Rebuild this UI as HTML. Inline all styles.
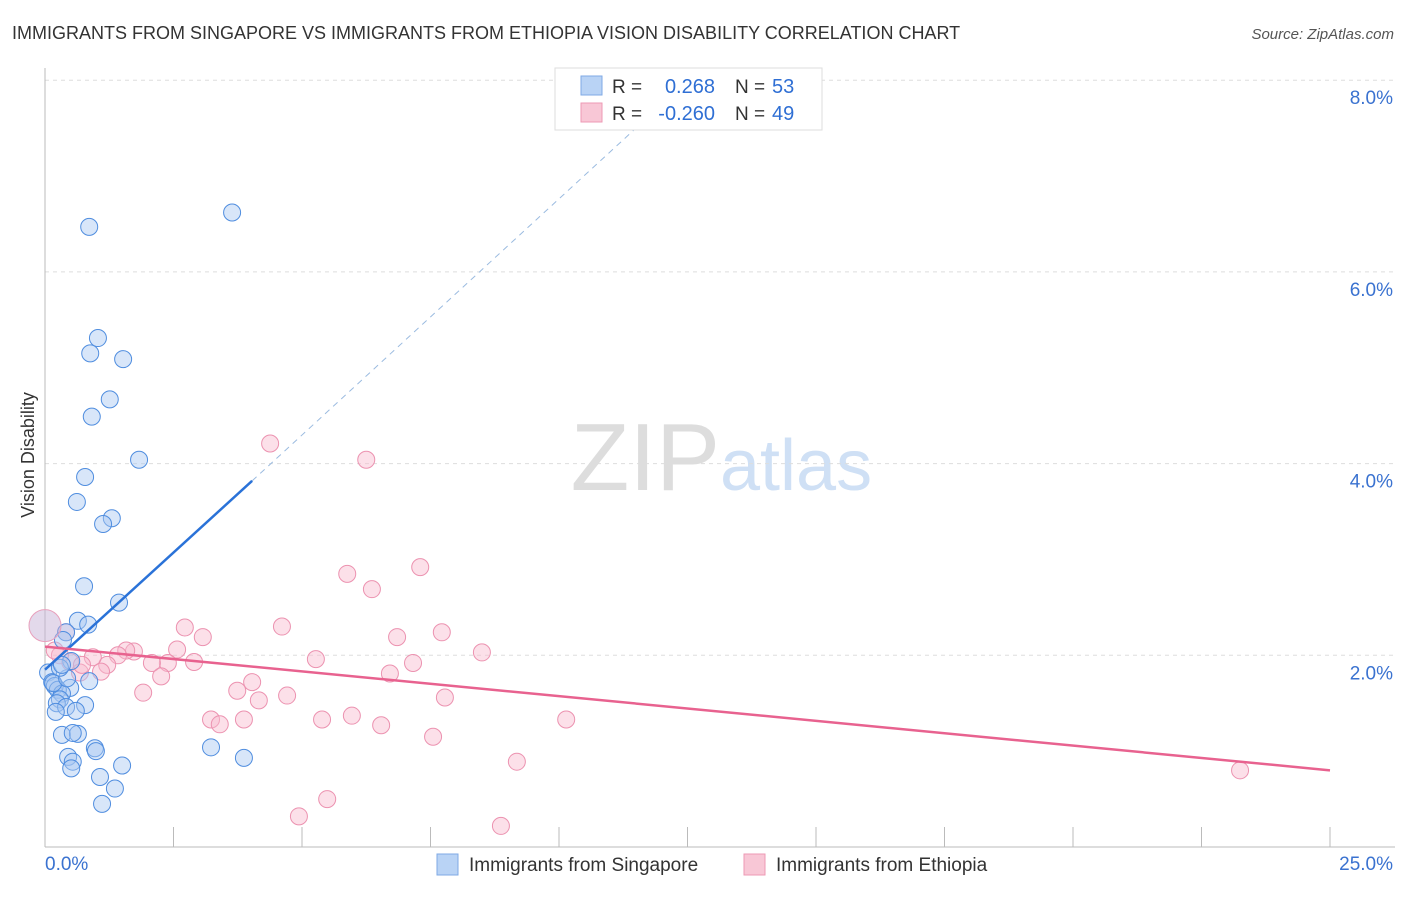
<!DOCTYPE html>
<html><head><meta charset="utf-8"><style>
body{margin:0;background:#fff;font-family:"Liberation Sans",sans-serif}
svg text{font-family:"Liberation Sans",sans-serif}
</style></head><body>
<svg id="chart" width="1406" height="892">
<text x="12" y="39" font-size="18" fill="#333">IMMIGRANTS FROM SINGAPORE VS IMMIGRANTS FROM ETHIOPIA VISION DISABILITY CORRELATION CHART</text>
<text x="1394" y="39" font-size="15" fill="#555" font-style="italic" text-anchor="end">Source: ZipAtlas.com</text>
<text transform="translate(34,455) rotate(-90)" font-size="18" fill="#333" text-anchor="middle">Vision Disability</text>
<text x="720" y="490" font-size="96" fill="#ddd" text-anchor="end" font-family="Liberation Serif">ZIP</text>
<text x="720" y="490" font-size="72" fill="#cfe0f5">atlas</text>
<g id="grid"></g><g id="axes"></g><g id="pts"></g><g id="lines"></g>
<g>
<rect x="555" y="68" width="267" height="62" fill="#fff" stroke="#ddd"/>
<rect x="581" y="76" width="21" height="19" fill="#b9d3f5" stroke="#7fa9e5"/>
<rect x="581" y="103" width="21" height="19" fill="#f8c7d6" stroke="#ee9ab4"/>
<text x="612" y="93" font-size="19" fill="#333">R = </text><text x="715" y="93" font-size="20" fill="#2f6fd4" text-anchor="end">0.268</text>
<text x="735" y="93" font-size="19" fill="#333">N = </text><text x="772" y="93" font-size="20" fill="#2f6fd4">53</text>
<text x="612" y="120" font-size="19" fill="#333">R = </text><text x="715" y="120" font-size="20" fill="#2f6fd4" text-anchor="end">-0.260</text>
<text x="735" y="120" font-size="19" fill="#333">N = </text><text x="772" y="120" font-size="20" fill="#2f6fd4">49</text>
</g>
<g>
<rect x="437" y="854" width="21" height="21" fill="#b9d3f5" stroke="#7fa9e5"/>
<text x="469" y="871" font-size="19" fill="#333">Immigrants from Singapore</text>
<rect x="744" y="854" width="21" height="21" fill="#f8c7d6" stroke="#ee9ab4"/>
<text x="776" y="871" font-size="19" fill="#333">Immigrants from Ethiopia</text>
</g>
</svg>
<script>
const yTicks=[2,4,6,8];
const xTickLabels=["0.0%","25.0%"];
const blueX=[0.86,3.64,1.03,0.88,1.52,1.26,0.91,1.83,0.78,0.62,1.30,1.13,0.76,1.44,0.64,0.84,0.41,0.51,0.49,0.06,0.14,0.19,0.25,0.33,0.29,0.23,0.41,0.78,0.21,0.60,0.33,0.64,0.54,0.97,0.99,0.45,0.54,0.51,1.50,3.23,3.87,1.07,1.36,1.11,0.16,0.43,0.86,0.29,0.35,0.33];
const blueY=[6.47,6.62,5.31,5.15,5.09,4.67,4.49,4.04,3.86,3.60,3.43,3.37,2.72,2.55,2.36,2.32,2.24,1.94,1.66,1.82,1.72,1.68,1.64,1.60,1.54,1.50,1.46,1.48,1.41,1.42,1.17,1.18,1.19,1.03,1.00,0.94,0.89,0.82,0.85,1.04,0.93,0.73,0.61,0.45,1.71,1.76,1.73,1.87,2.16,1.90];
const pinkX=[4.38,6.25,7.30,5.88,6.36,4.61,7.72,2.72,3.07,6.85,8.50,2.57,5.27,2.90,2.39,2.08,1.73,1.58,1.42,1.21,0.93,1.09,2.26,4.03,3.74,1.91,4.71,7.78,4.16,6.71,7.16,10.14,5.97,5.39,3.23,3.87,3.40,6.54,7.55,9.18,23.25,5.49,4.94,8.87,0.41,0.49,0.29,0.68,0.19,0.72];
const pinkY=[4.21,4.04,2.92,2.85,2.69,2.30,2.24,2.29,2.19,2.19,2.03,2.06,1.96,1.93,1.92,1.92,2.04,2.05,2.00,1.90,1.98,1.83,1.78,1.72,1.63,1.61,1.58,1.56,1.53,1.81,1.92,1.33,1.37,1.33,1.33,1.33,1.28,1.27,1.15,0.89,0.80,0.50,0.32,0.22,2.24,1.93,2.00,1.82,2.05,1.90];
const bigPts=[[0,2.31]];
const blueTrend=[[0,1.85],[4.03,3.82],[11.7,7.6]];
const pinkTrend=[[0,2.09],[25,0.80]];
const NS="http://www.w3.org/2000/svg";
const X=v=>45+v/25*1285, Y=v=>847-v*95.85;
function mk(t,a,p){const e=document.createElementNS(NS,t);for(const k in a)e.setAttribute(k,a[k]);document.getElementById(p).appendChild(e);return e;}
yTicks.forEach(t=>{const l=mk('line',{x1:45,x2:1395,y1:Y(t),y2:Y(t),stroke:'#ddd','stroke-dasharray':'4,4'},'grid');


const tx=mk('text',{x:1393,y:Y(t)+24,'font-size':19,fill:'#3a72d0','text-anchor':'end'},'grid');tx.textContent=t.toFixed(1)+'%';

});
const ax=mk('line',{x1:45,x2:45,y1:68,y2:847,stroke:'#bbb'},'axes');


const bx=mk('line',{x1:45,x2:1395,y1:847,y2:847,stroke:'#bbb'},'axes');


for(let i=1;i<=10;i++){const t=mk('line',{x1:45+i*128.5,x2:45+i*128.5,y1:827,y2:847,stroke:'#bbb'},'axes');

}
[[45,'start'],[1393,'end']].forEach((p,i)=>{const t=mk('text',{x:p[0],y:870,'font-size':19,fill:'#3a72d0','text-anchor':p[1]},'axes');t.textContent=xTickLabels[i];

});
pinkX.forEach((x,i)=>{const c=mk('circle',{cx:X(x),cy:Y(pinkY[i]),r:8.5,fill:'rgba(248,187,206,0.45)',stroke:'#ec92b0','stroke-width':1},'pts');

});
blueX.forEach((x,i)=>{const c=mk('circle',{cx:X(x),cy:Y(blueY[i]),r:8.5,fill:'rgba(168,200,242,0.45)',stroke:'#4f8ddf','stroke-width':1},'pts');

});
bigPts.forEach(p=>{const c=mk('circle',{cx:X(p[0]),cy:Y(p[1]),r:16,fill:'rgba(200,180,215,0.5)',stroke:'#e8a0bc'},'pts');

});
const b1=mk('line',{x1:X(blueTrend[0][0]),y1:Y(blueTrend[0][1]),x2:X(blueTrend[1][0]),y2:Y(blueTrend[1][1]),stroke:'#2a72d8','stroke-width':2.5},'lines');


const b2=mk('line',{x1:X(blueTrend[1][0]),y1:Y(blueTrend[1][1]),x2:X(blueTrend[2][0]),y2:Y(blueTrend[2][1]),stroke:'#9bbbe0','stroke-width':1,'stroke-dasharray':'6,5'},'lines');


const p1=mk('line',{x1:X(pinkTrend[0][0]),y1:Y(pinkTrend[0][1]),x2:X(pinkTrend[1][0]),y2:Y(pinkTrend[1][1]),stroke:'#e8628f','stroke-width':2.5},'lines');


</script>
</body></html>
